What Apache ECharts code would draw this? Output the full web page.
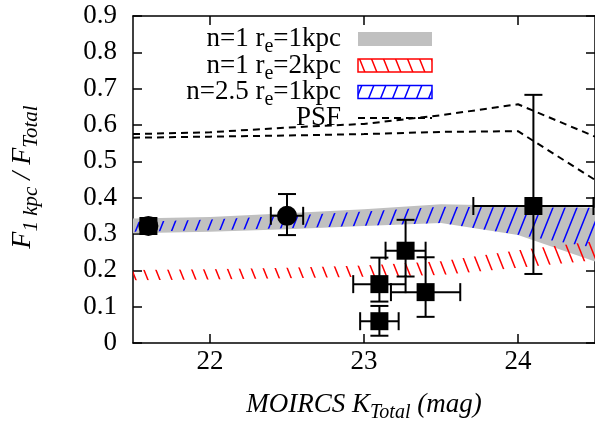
<!DOCTYPE html>
<html>
<head>
<meta charset="utf-8">
<script src="https://cdn.jsdelivr.net/npm/echarts@6/dist/echarts.min.js"></script>
<style>
  html, body { margin: 0; padding: 0; background: #fff; }
  #chart { width: 595px; height: 422px; }
</style>
</head>
<body>
<div id="chart"></div>
<script>
// model grid (K total, mag)
const modelMag = [21.5, 22.0, 22.5, 23.0, 23.5, 24.0, 24.5];
// n=1 re=1kpc (grey band)
const n1r1Lo = [0.302, 0.306, 0.313, 0.322, 0.330, 0.297, 0.224];
const n1r1Hi = [0.343, 0.347, 0.357, 0.368, 0.382, 0.378, 0.372];
// n=1 re=2kpc (red hatch)
const n1r2Lo = [0.173, 0.175, 0.178, 0.182, 0.187, 0.207, 0.228];
const n1r2Hi = [0.201, 0.203, 0.207, 0.213, 0.225, 0.255, 0.280];
// n=2.5 re=1kpc (blue hatch)
const n25r1Lo = [0.306, 0.310, 0.316, 0.323, 0.330, 0.298, 0.262];
const n25r1Hi = [0.333, 0.340, 0.350, 0.362, 0.375, 0.373, 0.372];
// PSF (two dashed curves)
const psfA = [0.575, 0.580, 0.593, 0.603, 0.627, 0.657, 0.568];
const psfB = [0.565, 0.568, 0.571, 0.575, 0.581, 0.583, 0.449];

// objects
const objMag = [21.6, 21.6, 22.5, 23.27, 23.10, 23.10, 23.40, 24.10];
const objMagErr = [0, 0, 0.105, 0.13, 0.17, 0.125, 0.225, 0.39];
const objRatio = [0.322, 0.322, 0.350, 0.254, 0.162, 0.060, 0.140, 0.377];
const objRatioErrLo = [0, 0, 0.053, 0.071, 0.048, 0.040, 0.068, 0.187];
const objRatioErrHi = [0, 0, 0.060, 0.085, 0.073, 0.042, 0.096, 0.306];
const objShape = ['circle', 'rect', 'circle', 'rect', 'rect', 'rect', 'rect', 'rect'];

const xTicks = [22, 23, 24];

const SERIF = '"Liberation Serif", "Times New Roman", serif';
const FS = 27, SUB = 20, SUBDY = 8;

function hatch(color, dir) {
  const w = 12, h = 30;
  const c = document.createElement('canvas');
  c.width = w; c.height = h;
  const g = c.getContext('2d');
  g.strokeStyle = color;
  g.lineWidth = 1.5;
  for (let k = -1; k <= 1; k++) {
    g.beginPath();
    if (dir > 0) { g.moveTo(k * w - w, 2 * h); g.lineTo(k * w + 2 * w, -h); }
    else { g.moveTo(k * w - w, -h); g.lineTo(k * w + 2 * w, 2 * h); }
    g.stroke();
  }
  return { image: c, repeat: 'repeat' };
}
const redHatch = hatch('#ff0000', -1);
const blueHatch = hatch('#0000ff', 1);

function band(name, lo, hi, fill, z) {
  const data = [];
  for (let i = 0; i < modelMag.length - 1; i++) {
    data.push([modelMag[i], lo[i], hi[i], modelMag[i + 1], lo[i + 1], hi[i + 1]]);
  }
  return {
    type: 'custom', name, z, clip: true, silent: true,
    data,
    encode: { x: [0, 3], y: [1, 2, 4, 5] },
    renderItem(params, api) {
      const p = [
        api.coord([api.value(0), api.value(1)]),
        api.coord([api.value(3), api.value(4)]),
        api.coord([api.value(3), api.value(5)]),
        api.coord([api.value(0), api.value(2)])
      ];
      return { type: 'polygon', shape: { points: p }, style: { fill, stroke: null } };
    }
  };
}

function zip(a, b) { return a.map((v, i) => [v, b[i]]); }

// text with subscripts, laid out by measured widths
const meas = document.createElement('canvas').getContext('2d');
function textRun(parts, x0, y, align, italic, fs, sub) {
  fs = fs || FS; sub = sub || SUB;
  const st = italic ? 'italic ' : '';
  let total = 0;
  const ws = parts.map(([t, s]) => {
    meas.font = st + (s ? sub : fs) + 'px ' + SERIF;
    const w = meas.measureText(t).width;
    total += w;
    return w;
  });
  let x = align === 'right' ? x0 - total : align === 'center' ? x0 - total / 2 : x0;
  return parts.map(([t, s], i) => {
    const el = {
      type: 'text', x, y: y + (s ? SUBDY : 0),
      style: {
        text: t, font: st + (s ? sub : fs) + 'px ' + SERIF, fill: '#000',
        textAlign: 'left', textVerticalAlign: 'middle'
      }
    };
    x += ws[i];
    return el;
  });
}

const axisStyle = { color: '#000', width: 1.5 };
const label = { color: '#000', fontSize: FS, fontFamily: SERIF };

const legendX = 341, sx = 358, sw = 74;
const rows = [39, 65.5, 92, 118];

const option = {
  backgroundColor: '#fff',
  animation: false,
  grid: { left: 133, right: -1, top: 16, bottom: 79 },
  xAxis: [
    {
      type: 'value', min: 21.5, max: 24.5, position: 'bottom',
      axisLine: { onZero: false, lineStyle: axisStyle },
      axisTick: { inside: true, length: 9, customValues: xTicks, lineStyle: axisStyle },
      axisLabel: Object.assign({ customValues: xTicks, margin: 5 }, label),
      splitLine: { show: false }
    },
    {
      type: 'value', min: 21.5, max: 24.5, position: 'top',
      axisLine: { onZero: false, lineStyle: axisStyle },
      axisTick: { inside: true, length: 9, customValues: xTicks, lineStyle: axisStyle },
      axisLabel: { show: false },
      splitLine: { show: false }
    }
  ],
  yAxis: [
    {
      type: 'value', min: 0, max: 0.9, interval: 0.1,
      axisLine: { onZero: false, lineStyle: axisStyle },
      axisTick: { inside: true, length: 9, lineStyle: axisStyle },
      axisLabel: Object.assign({ margin: 16 }, label),
      splitLine: { show: false }
    },
    {
      type: 'value', min: 0, max: 0.9, interval: 0.1, position: 'right',
      axisLine: { onZero: false, lineStyle: axisStyle },
      axisTick: { inside: true, length: 9, lineStyle: axisStyle },
      axisLabel: { show: false },
      splitLine: { show: false }
    }
  ],
  series: [
    band('n=1 re=1kpc', n1r1Lo, n1r1Hi, '#c0c0c0', 1),
    band('n=1 re=2kpc', n1r2Lo, n1r2Hi, redHatch, 2),
    band('n=2.5 re=1kpc', n25r1Lo, n25r1Hi, blueHatch, 3),
    {
      type: 'line', name: 'PSF', data: zip(modelMag, psfA), z: 4,
      symbol: 'none', lineStyle: { color: '#000', width: 2, type: [7, 5] }
    },
    {
      type: 'line', name: 'PSF2', data: zip(modelMag, psfB), z: 4,
      symbol: 'none', lineStyle: { color: '#000', width: 2, type: [7, 5] }
    },
    {
      type: 'custom', name: 'err', z: 5, clip: true, silent: true,
      data: objMag.map((m, i) => [m, objRatio[i], objMagErr[i], objRatioErrLo[i], objRatioErrHi[i]]),
      encode: { x: 0, y: 1 },
      renderItem(params, api) {
        const x = api.value(0), y = api.value(1);
        const xe = api.value(2), yl = api.value(3), yh = api.value(4);
        const cap = 9;
        const st = { stroke: '#000', lineWidth: 2 };
        const ch = [];
        const seg = (x1, y1, x2, y2) => ch.push({ type: 'line', shape: { x1, y1, x2, y2 }, style: st });
        if (xe > 0) {
          const l = api.coord([x - xe, y]), r = api.coord([x + xe, y]);
          seg(l[0], l[1], r[0], r[1]);
          seg(l[0], l[1] - cap, l[0], l[1] + cap);
          seg(r[0], r[1] - cap, r[0], r[1] + cap);
        }
        if (yl > 0 || yh > 0) {
          const b = api.coord([x, y - yl]), t = api.coord([x, y + yh]);
          seg(b[0], b[1], t[0], t[1]);
          seg(b[0] - cap, b[1], b[0] + cap, b[1]);
          seg(t[0] - cap, t[1], t[0] + cap, t[1]);
        }
        return { type: 'group', children: ch };
      }
    },
    {
      type: 'scatter', name: 'objects', z: 6,
      data: zip(objMag, objRatio),
      symbol: (v, p) => objShape[p.dataIndex],
      symbolSize: (v, p) => objShape[p.dataIndex] === 'circle' ? 20 : 18,
      itemStyle: { color: '#000', opacity: 1 }
    }
  ],
  graphic: [].concat(
    textRun([['n=1 r', 0], ['e', 1], ['=1kpc', 0]], legendX, rows[0], 'right'),
    textRun([['n=1 r', 0], ['e', 1], ['=2kpc', 0]], legendX, rows[1], 'right'),
    textRun([['n=2.5 r', 0], ['e', 1], ['=1kpc', 0]], legendX, rows[2], 'right'),
    textRun([['PSF', 0]], legendX, rows[3], 'right'),
    [
      { type: 'rect', shape: { x: sx, y: rows[0] - 7, width: sw, height: 14 }, style: { fill: '#c0c0c0' } },
      { type: 'rect', shape: { x: sx, y: rows[1] - 6.5, width: sw, height: 13 }, style: { fill: redHatch, stroke: '#ff0000', lineWidth: 1.5 } },
      { type: 'rect', shape: { x: sx, y: rows[2] - 6.5, width: sw, height: 13 }, style: { fill: blueHatch, stroke: '#0000ff', lineWidth: 1.5 } },
      { type: 'line', shape: { x1: sx, y1: rows[3], x2: sx + sw, y2: rows[3] }, style: { stroke: '#000', lineWidth: 2, lineDash: [7, 5] } },
      {
        type: 'group', x: 23, y: 177, rotation: Math.PI / 2,
        children: textRun([['F', 0], ['1 kpc', 1], [' / F', 0], ['Total', 1]], 0, 0, 'center', true, 28, 21)
      }
    ],
    textRun([['MOIRCS K', 0], ['Total', 1], [' (mag)', 0]], 364, 405, 'center', true)
  )
};

const chart = echarts.init(document.getElementById('chart'));
chart.setOption(option);
</script>
</body>
</html>
